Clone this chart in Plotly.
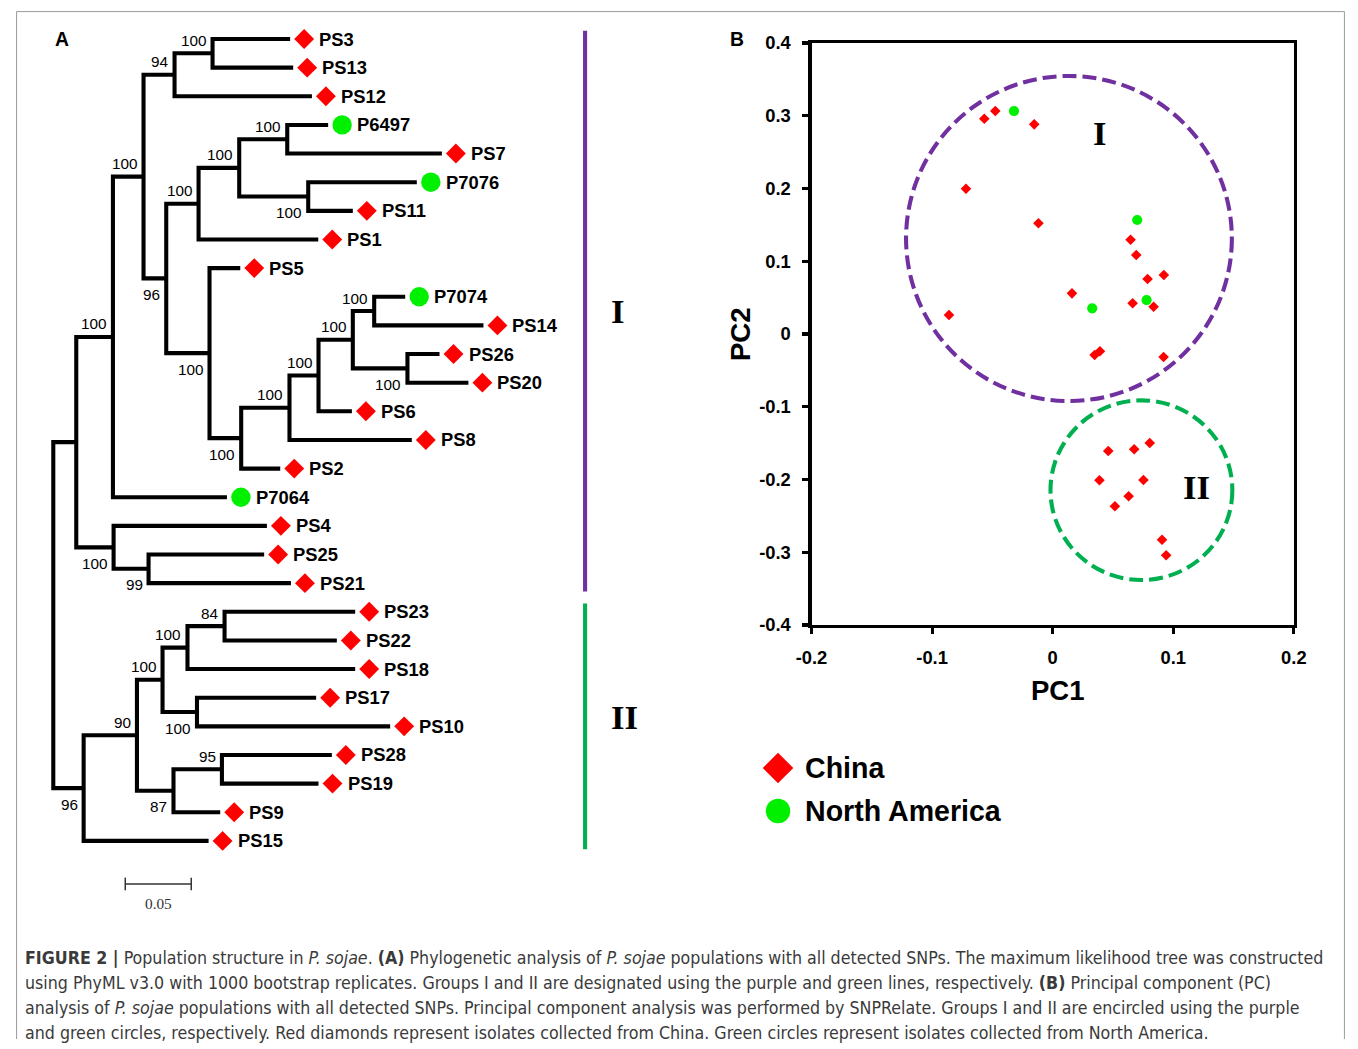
import plotly.graph_objects as go

W, H = 1358, 1049          # page / figure size

# ---------------- Panel A: phylogenetic tree data ----------------
LEAF_NAMES = ["PS3", "PS13", "PS12", "P6497", "PS7", "P7076", "PS11", "PS1", "PS5",
              "P7074", "PS14", "PS26", "PS20", "PS6", "PS8", "PS2", "P7064", "PS4",
              "PS25", "PS21", "PS23", "PS22", "PS18", "PS17", "PS10", "PS28", "PS19",
              "PS9", "PS15"]
LEAF_ORIGIN = ["C", "C", "C", "N", "C", "N", "C", "C", "C",
               "N", "C", "C", "C", "C", "C", "C", "N", "C",
               "C", "C", "C", "C", "C", "C", "C", "C", "C",
               "C", "C"]
LEAF_DEPTH = [0.1795, 0.1818, 0.1960, 0.2083, 0.2945, 0.2755, 0.2270, 0.2008, 0.1417,
              0.2667, 0.3260, 0.2927, 0.3146, 0.2263, 0.2717, 0.1720, 0.1316, 0.1619,
              0.1598, 0.1801, 0.2288, 0.2149, 0.2288, 0.1992, 0.2553, 0.2111, 0.2010,
              0.1265, 0.1177]

# internal nodes (post-order); children refer to leaves "L#" or nodes "N#"
NODE_CHILDREN = [("L0", "L1"), ("N0", "L2"), ("L3", "L4"), ("L5", "L6"), ("N2", "N3"),
                 ("N4", "L7"), ("L9", "L10"), ("L11", "L12"), ("N6", "N7"), ("N8", "L13"),
                 ("N9", "L14"), ("N10", "L15"), ("L8", "N11"), ("N5", "N12"), ("N1", "N13"),
                 ("N14", "L16"), ("L18", "L19"), ("L17", "N16"), ("N15", "N17"),
                 ("L20", "L21"), ("N19", "L22"), ("L23", "L24"), ("N20", "N21"),
                 ("L25", "L26"), ("N23", "L27"), ("N22", "N24"), ("N25", "L28"),
                 ("N18", "N26")]
NODE_DEPTH = [0.1207, 0.0919, 0.1773, 0.1932, 0.1409, 0.1101, 0.2432, 0.2684, 0.2270,
              0.2010, 0.1790, 0.1424, 0.1184, 0.0856, 0.0684, 0.0452, 0.0722, 0.0457,
              0.0174, 0.1298, 0.1017, 0.1089, 0.0828, 0.1278, 0.0911, 0.0634, 0.0230,
              0.0]
NODE_SUPPORT = ["100", "94", "100", "100", "100", "100", "100", "100", "100",
                "100", "100", "100", "100", "96", "100", "100", "99", "100",
                "", "84", "100", "100", "100", "95", "87", "90", "96", ""]
NODE_LABEL_SIDE = [1, 1, 1, -1, 1, 1, 1, -1, 1,
                   1, 1, -1, -1, -1, 1, 1, -1, -1,
                   0, 1, 1, -1, 1, 1, -1, 1, -1, 0]

GROUP_NAMES = ["I", "II"]
GROUP_FIRST_LEAF = [0, 20]
GROUP_LAST_LEAF = [19, 28]
GROUP_COLORS = ["#7030A0", "#00B050"]

SCALE_BAR_LEN = 0.05

# ---------------- Panel B: PCA data ----------------
CHINA_PC1 = [-0.0567, -0.0476, -0.0153, -0.0719, -0.0118, -0.0860, 0.0646, 0.0693,
             0.0787, 0.0922, 0.0160, 0.0663, 0.0837, 0.0348, 0.0392, 0.0920,
             0.0461, 0.0676, 0.0805, 0.0388, 0.0753, 0.0630, 0.0516, 0.0907, 0.0941]
CHINA_PC2 = [0.2959, 0.3065, 0.2882, 0.1997, 0.1523, 0.0261, 0.1296, 0.1086,
             0.0756, 0.0811, 0.0559, 0.0422, 0.0375, -0.0289, -0.0238, -0.0316,
             -0.1608, -0.1585, -0.1498, -0.2011, -0.2007, -0.2231, -0.2368, -0.2828, -0.3042]
NA_PC1 = [-0.0321, 0.0701, 0.0779, 0.0328]
NA_PC2 = [0.3065, 0.1567, 0.0467, 0.0353]

CIRCLE_CX = [0.0135, 0.0736]
CIRCLE_CY = [0.1313, -0.2147]
CIRCLE_RX = [0.1351, 0.0754]
CIRCLE_RY = [0.2234, 0.1235]
GROUP_LABEL_PC1 = [0.0392, 0.1196]
GROUP_LABEL_PC2 = [0.2750, -0.2117]

PC1_TICKS = [-0.2, -0.1, 0, 0.1, 0.2]
PC1_TICKTEXT = ["-0.2", "-0.1", "0", "0.1", "0.2"]
PC2_TICKS = [-0.4, -0.3, -0.2, -0.1, 0, 0.1, 0.2, 0.3, 0.4]
PC2_TICKTEXT = ["-0.4", "-0.3", "-0.2", "-0.1", "0", "0.1", "0.2", "0.3", "0.4"]

LEGEND_LABELS = ["China", "North America"]

CAPTION_LINES = [
    "<b>FIGURE 2 |</b> Population structure in <i>P. sojae</i>. <b>(A)</b> Phylogenetic analysis of <i>P. sojae</i> populations with all detected SNPs. The maximum likelihood tree was constructed",
    "using PhyML v3.0 with 1000 bootstrap replicates. Groups I and II are designated using the purple and green lines, respectively. <b>(B)</b> Principal component (PC)",
    "analysis of <i>P. sojae</i> populations with all detected SNPs. Principal component analysis was performed by SNPRelate. Groups I and II are encircled using the purple",
    "and green circles, respectively. Red diamonds represent isolates collected from China. Green circles represent isolates collected from North America.",
]

# ---------------- style ----------------
RED = "#FF0000"
LIME = "#00F000"
SANS = "Liberation Sans, Arial, sans-serif"
SERIF = "Liberation Serif, Times New Roman, serif"
CAPTION_FONT = "DejaVu Sans Condensed, Liberation Sans Narrow, Arial Narrow, sans-serif"
PX_PER_UNIT = 1320.0        # tree scale (target px per substitution unit)
LEAF_PX = 28.64             # target px between leaves
TREE_X0_PX = 53.0           # root position (target px)
TREE_Y0_PX = 38.0           # first leaf position (target px)

# the photographed page appears slightly reduced and centred; positions below are in
# target-picture pixels and are mapped back to page pixels with this measured relation
PIC_A_X, PIC_B_X = 15.7, 0.979
PIC_A_Y, PIC_B_Y = 10.0, 0.980
K = 1 / PIC_B_Y             # size compensation for fonts/markers


def px_x(p):
    return ((p - PIC_A_X) / PIC_B_X) / W


def px_y(p):
    return 1 - ((p - PIC_A_Y) / PIC_B_Y) / H


def pos(ref):
    i = int(ref[1:])
    if ref[0] == "L":
        return LEAF_DEPTH[i], float(i)
    return node_xy[i]


node_xy = []
for j, ch in enumerate(NODE_CHILDREN):
    ys = [pos(c)[1] for c in ch]
    node_xy.append((NODE_DEPTH[j], (min(ys) + max(ys)) / 2))

fig = go.Figure()

# tree branches
bx, by = [], []
for j, ch in enumerate(NODE_CHILDREN):
    xn, _ = node_xy[j]
    (x1, y1), (x2, y2) = pos(ch[0]), pos(ch[1])
    bx += [x1, xn, xn, x2, None]
    by += [y1, y1, y2, y2, None]
fig.add_trace(go.Scatter(x=bx, y=by, mode="lines", line=dict(color="black", width=4 * K),
                         hoverinfo="skip", showlegend=False, xaxis="x", yaxis="y"))

gap = 14 / PX_PER_UNIT
for code, sym, size, col in [("C", "diamond", 15, RED), ("N", "circle", 19, LIME)]:
    idx = [i for i, o in enumerate(LEAF_ORIGIN) if o == code]
    fig.add_trace(go.Scatter(x=[LEAF_DEPTH[i] + gap for i in idx], y=idx, mode="markers",
                             marker=dict(symbol=sym, size=size * K, color=col, line=dict(width=0)),
                             hoverinfo="skip", showlegend=False, xaxis="x", yaxis="y"))

annotations = []
for i, name in enumerate(LEAF_NAMES):
    annotations.append(dict(x=LEAF_DEPTH[i] + gap, y=i, xref="x", yref="y", text=name,
                            showarrow=False, xanchor="left", yanchor="middle", xshift=13,
                            font=dict(family=SANS, size=18 * K, color="black", weight="bold")))
for j, s in enumerate(NODE_SUPPORT):
    if not s:
        continue
    xn, yn = node_xy[j]
    annotations.append(dict(x=xn, y=yn, xref="x", yref="y", text=s, showarrow=False,
                            xanchor="right", yanchor="middle", xshift=-4,
                            yshift=13 if NODE_LABEL_SIDE[j] > 0 else -16,
                            font=dict(family=SANS, size=15 * K, color="black")))

# group bars
bar_x = (585 - TREE_X0_PX) / PX_PER_UNIT
for g, name in enumerate(GROUP_NAMES):
    y0 = GROUP_FIRST_LEAF[g] - 0.29
    y1 = GROUP_LAST_LEAF[g] + 0.29
    fig.add_trace(go.Scatter(x=[bar_x, bar_x], y=[y0, y1], mode="lines",
                             line=dict(color=GROUP_COLORS[g], width=4 * K),
                             hoverinfo="skip", showlegend=False, xaxis="x", yaxis="y"))
    annotations.append(dict(x=bar_x, y=(GROUP_FIRST_LEAF[g] + GROUP_LAST_LEAF[g]) / 2,
                            xref="x", yref="y", text=name, showarrow=False, xanchor="left",
                            yanchor="middle", xshift=24, yshift=[0, 9][g],
                            font=dict(family=SERIF, size=34 * K, color="black", weight="bold")))

# scale bar
sb_x0 = (125 - TREE_X0_PX) / PX_PER_UNIT
sb_y = (883 - TREE_Y0_PX) / LEAF_PX
fig.add_trace(go.Scatter(x=[sb_x0, sb_x0 + SCALE_BAR_LEN, None, sb_x0, sb_x0, None,
                            sb_x0 + SCALE_BAR_LEN, sb_x0 + SCALE_BAR_LEN],
                         y=[sb_y, sb_y, None, sb_y - 0.22, sb_y + 0.22, None,
                            sb_y - 0.22, sb_y + 0.22],
                         mode="lines", line=dict(color="#333333", width=1.5),
                         hoverinfo="skip", showlegend=False, xaxis="x", yaxis="y"))
annotations.append(dict(x=sb_x0 + SCALE_BAR_LEN / 2, y=sb_y, xref="x", yref="y", text="0.05",
                        showarrow=False, xanchor="center", yanchor="middle", yshift=-20,
                        font=dict(family=SERIF, size=15 * K, color="#333333")))

# ---------------- PCA ----------------
fig.add_trace(go.Scatter(x=CHINA_PC1, y=CHINA_PC2, mode="markers", name="China",
                         marker=dict(symbol="diamond", size=8 * K, color=RED, line=dict(width=0)),
                         showlegend=False, xaxis="x2", yaxis="y2"))
fig.add_trace(go.Scatter(x=NA_PC1, y=NA_PC2, mode="markers", name="North America",
                         marker=dict(symbol="circle", size=10 * K, color=LIME, line=dict(width=0)),
                         showlegend=False, xaxis="x2", yaxis="y2"))

shapes = []
for g in range(2):
    shapes.append(dict(type="circle", xref="x2", yref="y2",
                       x0=CIRCLE_CX[g] - CIRCLE_RX[g], x1=CIRCLE_CX[g] + CIRCLE_RX[g],
                       y0=CIRCLE_CY[g] - CIRCLE_RY[g], y1=CIRCLE_CY[g] + CIRCLE_RY[g],
                       line=dict(color=GROUP_COLORS[g], width=4 * K, dash="14px,6px"), layer="above"))
    annotations.append(dict(x=GROUP_LABEL_PC1[g], y=GROUP_LABEL_PC2[g], xref="x2", yref="y2",
                            text=GROUP_NAMES[g], showarrow=False, xanchor="center", yanchor="middle",
                            font=dict(family=SERIF, size=34 * K, color="black", weight="bold")))

# legend
fig.add_trace(go.Scatter(x=[0], y=[0], mode="markers",
                         marker=dict(symbol="diamond", size=23 * K, color=RED, line=dict(width=0)),
                         hoverinfo="skip", showlegend=False, xaxis="x3", yaxis="y3"))
fig.add_trace(go.Scatter(x=[0], y=[1], mode="markers",
                         marker=dict(symbol="circle", size=24 * K, color=LIME, line=dict(width=0)),
                         hoverinfo="skip", showlegend=False, xaxis="x3", yaxis="y3"))
for k, lab in enumerate(LEGEND_LABELS):
    annotations.append(dict(x=0, y=k, xref="x3", yref="y3", text=lab, showarrow=False,
                            xanchor="left", yanchor="middle", xshift=25,
                            font=dict(family=SANS, size=28 * K, color="black", weight="bold")))

# axis titles / panel letters
annotations.append(dict(x=px_x(1058), y=px_y(690), xref="paper", yref="paper", text="PC1",
                        xanchor="center", yanchor="middle", showarrow=False,
                        font=dict(family=SANS, size=27 * K, color="black", weight="bold")))
annotations.append(dict(x=px_x(741), y=px_y(333), xref="paper", yref="paper", text="PC2",
                        xanchor="center", yanchor="middle", textangle=-90, showarrow=False,
                        font=dict(family=SANS, size=27 * K, color="black", weight="bold")))
annotations.append(dict(x=px_x(62), y=px_y(38), xref="paper", yref="paper", text="A",
                        xanchor="center", yanchor="middle", showarrow=False,
                        font=dict(family=SANS, size=19 * K, color="black", weight="bold")))
annotations.append(dict(x=px_x(737), y=px_y(38), xref="paper", yref="paper", text="B",
                        xanchor="center", yanchor="middle", showarrow=False,
                        font=dict(family=SANS, size=19 * K, color="black", weight="bold")))

# frame (left, top, right edges; open at the bottom like the page crop)
frame = dict(color="#9a9a9a", width=1)
fl, fr, ft = 0.6 / W, 1 - 0.6 / W, 1 - 0.6 / H
shapes.append(dict(type="line", xref="paper", yref="paper", x0=fl, x1=fl, y0=0, y1=ft, line=frame))
shapes.append(dict(type="line", xref="paper", yref="paper", x0=fl, x1=fr, y0=ft, y1=ft, line=frame))
shapes.append(dict(type="line", xref="paper", yref="paper", x0=fr, x1=fr, y0=0, y1=ft, line=frame))

# caption
for k, line in enumerate(CAPTION_LINES):
    annotations.append(dict(x=px_x(23), y=px_y(957 + 25 * k), xref="paper", yref="paper",
                            text=line, showarrow=False, xanchor="left", yanchor="middle",
                            font=dict(family=CAPTION_FONT, size=17.3 * K, color="#3a3a3a")))

hidden = dict(visible=False, showgrid=False, zeroline=False, fixedrange=True)
axis_common = dict(showline=True, linewidth=3 * K, linecolor="black", mirror=True, ticks="outside",
                   ticklen=6, tickwidth=3 * K, tickcolor="black", showgrid=False, zeroline=False,
                   tickfont=dict(family=SANS, size=18 * K, color="black", weight="bold"))

x_left_pic, x_right_pic = PIC_A_X, PIC_A_X + PIC_B_X * W
y_top_pic, y_bot_pic = PIC_A_Y, PIC_A_Y + PIC_B_Y * H

fig.update_layout(
    width=W, height=H, margin=dict(l=0, r=0, t=0, b=0),
    paper_bgcolor="white", plot_bgcolor="rgba(0,0,0,0)",
    xaxis=dict(domain=[0, 1],
               range=[(x_left_pic - TREE_X0_PX) / PX_PER_UNIT, (x_right_pic - TREE_X0_PX) / PX_PER_UNIT],
               **hidden),
    yaxis=dict(domain=[0, 1],
               range=[(y_bot_pic - TREE_Y0_PX) / LEAF_PX, (y_top_pic - TREE_Y0_PX) / LEAF_PX],
               **hidden),
    xaxis2=dict(domain=[px_x(811.5), px_x(1294)], range=[-0.2, 0.2], anchor="y2",
                tickvals=PC1_TICKS, ticktext=PC1_TICKTEXT, ticklabelstandoff=8, **axis_common),
    yaxis2=dict(domain=[px_y(624), px_y(42)], range=[-0.4, 0.4], anchor="x2",
                tickvals=PC2_TICKS, ticktext=PC2_TICKTEXT, ticklabelstandoff=8, **axis_common),
    xaxis3=dict(domain=[px_x(740), px_x(1040)], range=[-38, 262], anchor="y3", **hidden),
    yaxis3=dict(domain=[px_y(850), px_y(730)], range=[(850 - 767) / 43, (730 - 767) / 43],
                anchor="x3", **hidden),
    shapes=shapes, annotations=annotations, showlegend=False,
)

fig.write_html("out.html", config={"staticPlot": True},
               post_script="document.body.style.margin='0';document.body.style.overflow='hidden';")
